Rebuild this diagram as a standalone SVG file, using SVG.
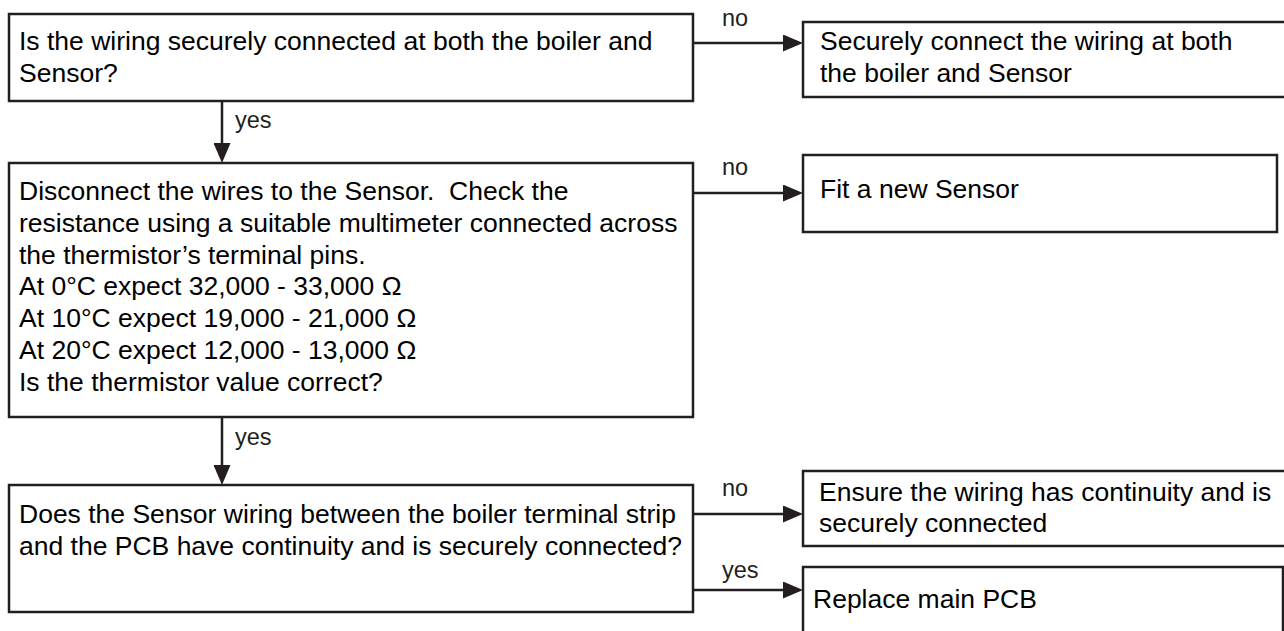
<svg xmlns="http://www.w3.org/2000/svg" width="1284" height="631" viewBox="0 0 1284 631">
<defs>
<style>
.box{fill:#fff;stroke:#231f20;stroke-width:2.5}
.t{font-family:"Liberation Sans",Arial,sans-serif;font-size:26.5px;fill:#000}
.lbl{font-family:"Liberation Sans",Arial,sans-serif;font-size:23.5px;fill:#231f20}
.c{fill:none;stroke:#231f20;stroke-width:2.5}
</style>
<marker id="ah" markerUnits="userSpaceOnUse" markerWidth="20" markerHeight="17" refX="10" refY="8.5" orient="auto">
<path d="M0,0 L20,8.5 L0,17 z" fill="#231f20"/>
</marker>
</defs>
<rect width="1284" height="631" fill="#fff"/>
<g id="connectors">
<line class="c" x1="693" y1="43" x2="793" y2="43" marker-end="url(#ah)"/>
<line class="c" x1="222" y1="101" x2="222" y2="153" marker-end="url(#ah)"/>
<line class="c" x1="693" y1="193" x2="793" y2="193" marker-end="url(#ah)"/>
<line class="c" x1="222" y1="417" x2="222" y2="475" marker-end="url(#ah)"/>
<line class="c" x1="693" y1="514" x2="793" y2="514" marker-end="url(#ah)"/>
<line class="c" x1="693" y1="590" x2="793" y2="590" marker-end="url(#ah)"/>
<text class="lbl" x="722" y="26">no</text>
<text class="lbl" x="235" y="128">yes</text>
<text class="lbl" x="722" y="175">no</text>
<text class="lbl" x="235" y="445">yes</text>
<text class="lbl" x="722" y="496">no</text>
<text class="lbl" x="722" y="578">yes</text>
</g>
<g id="q1">
<rect class="box" x="9" y="14" width="684" height="87"/>
<text class="t" x="19" y="50">Is the wiring securely connected at both the boiler and</text>
<text class="t" x="19" y="82">Sensor?</text>
</g>
<g id="a1">
<rect class="box" x="803" y="22" width="490" height="75"/>
<text class="t" x="820" y="50">Securely connect the wiring at both</text>
<text class="t" x="820" y="82">the boiler and Sensor</text>
</g>
<g id="q2">
<rect class="box" x="9" y="163" width="684" height="254"/>
<text class="t" x="19" y="200" xml:space="preserve">Disconnect the wires to the Sensor.  Check the</text>
<text class="t" x="19" y="232">resistance using a suitable multimeter connected across</text>
<text class="t" x="19" y="264">the thermistor’s terminal pins.</text>
<text class="t" x="19" y="295">At 0°C expect 32,000 - 33,000 Ω</text>
<text class="t" x="19" y="327">At 10°C expect 19,000 - 21,000 Ω</text>
<text class="t" x="19" y="359">At 20°C expect 12,000 - 13,000 Ω</text>
<text class="t" x="19" y="391">Is the thermistor value correct?</text>
</g>
<g id="a2">
<rect class="box" x="803" y="155" width="474" height="77"/>
<text class="t" x="820" y="198">Fit a new Sensor</text>
</g>
<g id="q3">
<rect class="box" x="9" y="485" width="684" height="127"/>
<text class="t" x="19" y="523">Does the Sensor wiring between the boiler terminal strip</text>
<text class="t" x="19" y="555">and the PCB have continuity and is securely connected?</text>
</g>
<g id="a3">
<rect class="box" x="803" y="471" width="490" height="75"/>
<text class="t" x="819" y="501">Ensure the wiring has continuity and is</text>
<text class="t" x="819" y="532">securely connected</text>
</g>
<g id="a4">
<rect class="box" x="803" y="567" width="480" height="80"/>
<text class="t" x="813" y="608">Replace main PCB</text>
</g>
</svg>
